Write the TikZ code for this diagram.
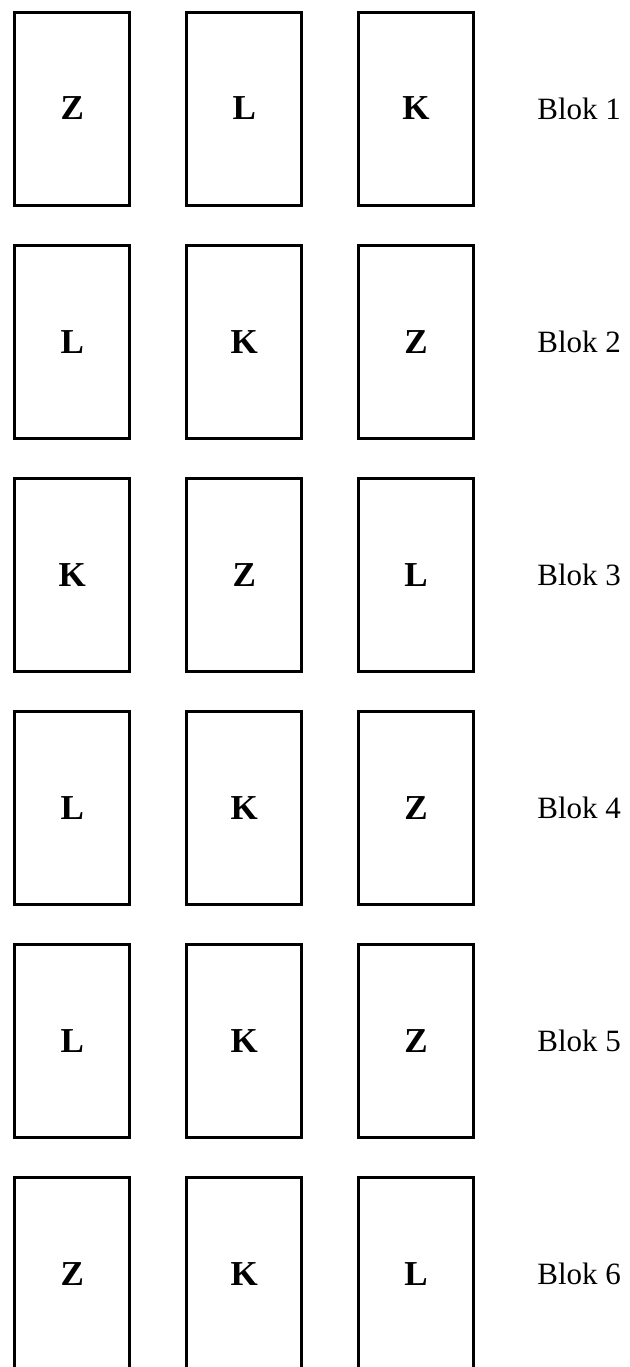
\documentclass[tikz,border=0pt]{standalone}
\usepackage{fontspec}
\setmainfont{Liberation Serif}
\begin{document}
\begin{tikzpicture}[x=0.5pt,y=-0.5pt,
  card/.style={draw=black,line width=1.5pt,rectangle,minimum width=57.5pt,minimum height=96.5pt,inner sep=0pt,font=\fontsize{17.5pt}{20pt}\selectfont\bfseries},
  bloklabel/.style={anchor=west,inner sep=0pt,font=\fontsize{15.5pt}{18pt}\selectfont}]
\useasboundingbox (0,0) rectangle (629,1367);
\clip (0,0) rectangle (629,1367);
\def\ca{72.3}\def\cb{244.3}\def\cc{416}\def\lx{537}
% row 1
\node[card] (r1a) at (\ca,108.5) {Z};
\node[card] (r1b) at (\cb,108.5) {L};
\node[card] (r1c) at (\cc,108.5) {K};
\node[bloklabel] (l1) at (\lx,108.5) {Blok 1};
% row 2
\node[card] (r2a) at (\ca,341.6) {L};
\node[card] (r2b) at (\cb,341.6) {K};
\node[card] (r2c) at (\cc,341.6) {Z};
\node[bloklabel] (l2) at (\lx,341.6) {Blok 2};
% row 3
\node[card] (r3a) at (\ca,574.7) {K};
\node[card] (r3b) at (\cb,574.7) {Z};
\node[card] (r3c) at (\cc,574.7) {L};
\node[bloklabel] (l3) at (\lx,574.7) {Blok 3};
% row 4
\node[card] (r4a) at (\ca,807.8) {L};
\node[card] (r4b) at (\cb,807.8) {K};
\node[card] (r4c) at (\cc,807.8) {Z};
\node[bloklabel] (l4) at (\lx,807.8) {Blok 4};
% row 5
\node[card] (r5a) at (\ca,1041) {L};
\node[card] (r5b) at (\cb,1041) {K};
\node[card] (r5c) at (\cc,1041) {Z};
\node[bloklabel] (l5) at (\lx,1041) {Blok 5};
% row 6
\node[card] (r6a) at (\ca,1274) {Z};
\node[card] (r6b) at (\cb,1274) {K};
\node[card] (r6c) at (\cc,1274) {L};
\node[bloklabel] (l6) at (\lx,1274) {Blok 6};
\end{tikzpicture}
\end{document}
